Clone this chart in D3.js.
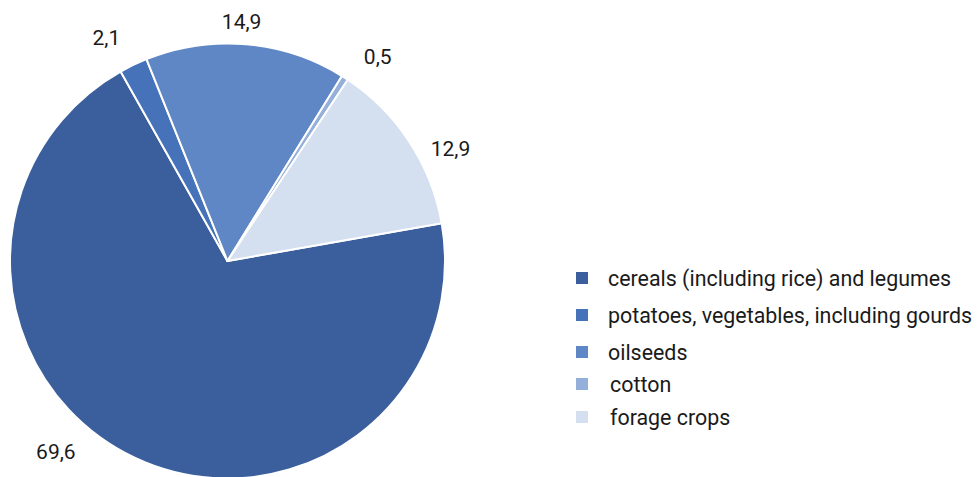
<!DOCTYPE html>
<html><head><meta charset="utf-8">
<script src="https://cdn.jsdelivr.net/npm/d3@7"></script>
<style>body{margin:0;background:#fff;} text{font-family:Roboto, "Noto Sans", sans-serif;fill:#1a1a1a;}</style>
</head><body>
<svg id="c" width="979" height="477"></svg>
<script>
const categories = ["cereals (including rice) and legumes","potatoes, vegetables, including gourds","oilseeds","cotton","forage crops"];
const values = [69.6, 2.1, 14.9, 0.5, 12.9];
const valueLabels = ["69,6","2,1","14,9","0,5","12,9"];
const colors = ["#3a5f9c","#4572b9","#5f87c5","#94afd9","#d4dff0"];

// layout
const cx = 227.5, cy = 261, R = 217.5, labelR = 245;
const startDeg = 80;
const labelNudge = [[-67,-31],[-15,-3],[-7,5],[18,2],[18,22]];
const legendX = 576, legendTextX = [608,608,608,610,610], legendY = [278,315,352,384,417];

const svg = d3.select("#c");
const pie = d3.pie().sort(null).value(d=>d)
  .startAngle(startDeg*Math.PI/180).endAngle(startDeg*Math.PI/180 + 2*Math.PI);
const arcs = pie(values);
const arc = d3.arc().innerRadius(0).outerRadius(R);
const labelArc = d3.arc().innerRadius(labelR).outerRadius(labelR);
const g = svg.append("g").attr("transform",`translate(${cx},${cy})`);
g.selectAll("path").data(arcs).join("path")
  .attr("d",arc).attr("fill",(d,i)=>colors[i])
  .attr("stroke","#fff").attr("stroke-width",2).attr("stroke-linejoin","round");
g.selectAll("text").data(arcs).join("text")
  .attr("x",(d,i)=>labelArc.centroid(d)[0]+labelNudge[i][0])
  .attr("y",(d,i)=>labelArc.centroid(d)[1]+labelNudge[i][1])
  .attr("dy","0.36em").attr("text-anchor","middle")
  .style("font-size","21px").text((d,i)=>valueLabels[i]);

const lg = svg.append("g");
categories.forEach((c,i)=>{
  lg.append("rect").attr("x",legendX).attr("y",legendY[i]-6).attr("width",12).attr("height",12).attr("fill",colors[i]);
  lg.append("text").attr("x",legendTextX[i]).attr("y",legendY[i]).attr("dy","0.36em")
    .style("font-size","21.4px").text(c);
});
</script>
</body></html>
